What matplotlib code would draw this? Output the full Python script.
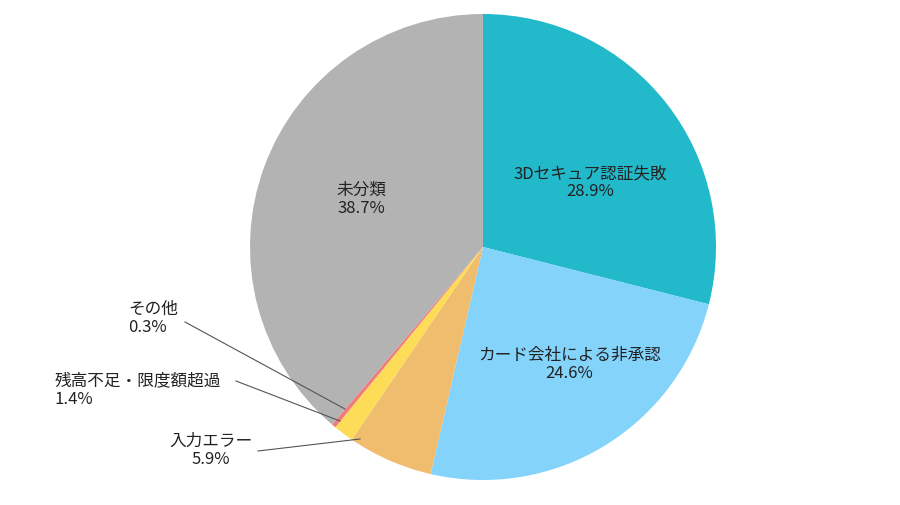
import matplotlib
matplotlib.use("Agg")
import matplotlib.pyplot as plt

plt.rcParams['font.family'] = ['Noto Sans CJK JP', 'DejaVu Sans']

categories = ["3Dセキュア認証失敗", "カード会社による非承認", "入力エラー", "残高不足・限度額超過", "その他", "未分類"]
values = [28.9, 24.6, 5.9, 1.4, 0.3, 38.7]
colors = ["#22b9ca", "#83d3fb", "#f0bc6e", "#fddd57", "#ef7d7d", "#b3b3b3"]

fig = plt.figure(figsize=(9, 5.06), dpi=100)
ax = fig.add_axes([(483-233)/900, (506-248-233)/506, 466/900, 466/506])
ax.pie(values, colors=colors, startangle=90, counterclock=False,
       wedgeprops=dict(linewidth=0))
ax.set_xlim(-1, 1); ax.set_ylim(-1, 1)
ax.set_aspect('equal')

fs = 12
inside = {0: (0.46, 0.28), 1: (0.37, -0.50), 5: (-0.52, 0.21)}
for i, (x, y) in inside.items():
    ax.text(x, y, f"{categories[i]}\n{values[i]}%", ha='center', va='center',
            fontsize=fs, color='#222222', linespacing=1.1)

def px(x, y):
    return ((x-483)/233, (248-y)/233)

outside = {
    4: ((128, 318), 'left', (185, 323), (345, 410)),
    3: ((55, 390), 'left', (236, 382), (340, 422)),
    2: ((211, 450), 'center', (258, 452), (360, 440)),
}
for i, (tp, ha, a, b) in outside.items():
    tx, ty = px(*tp)
    ax.text(tx, ty, f"{categories[i]}\n{values[i]}%", ha=ha, va='center',
            fontsize=fs, color='#222222', linespacing=1.1, clip_on=False)
    (x1, y1), (x2, y2) = px(*a), px(*b)
    ax.plot([x1, x2], [y1, y2], color='#555555', lw=0.8, clip_on=False)

fig.savefig("out.png", dpi=100)
